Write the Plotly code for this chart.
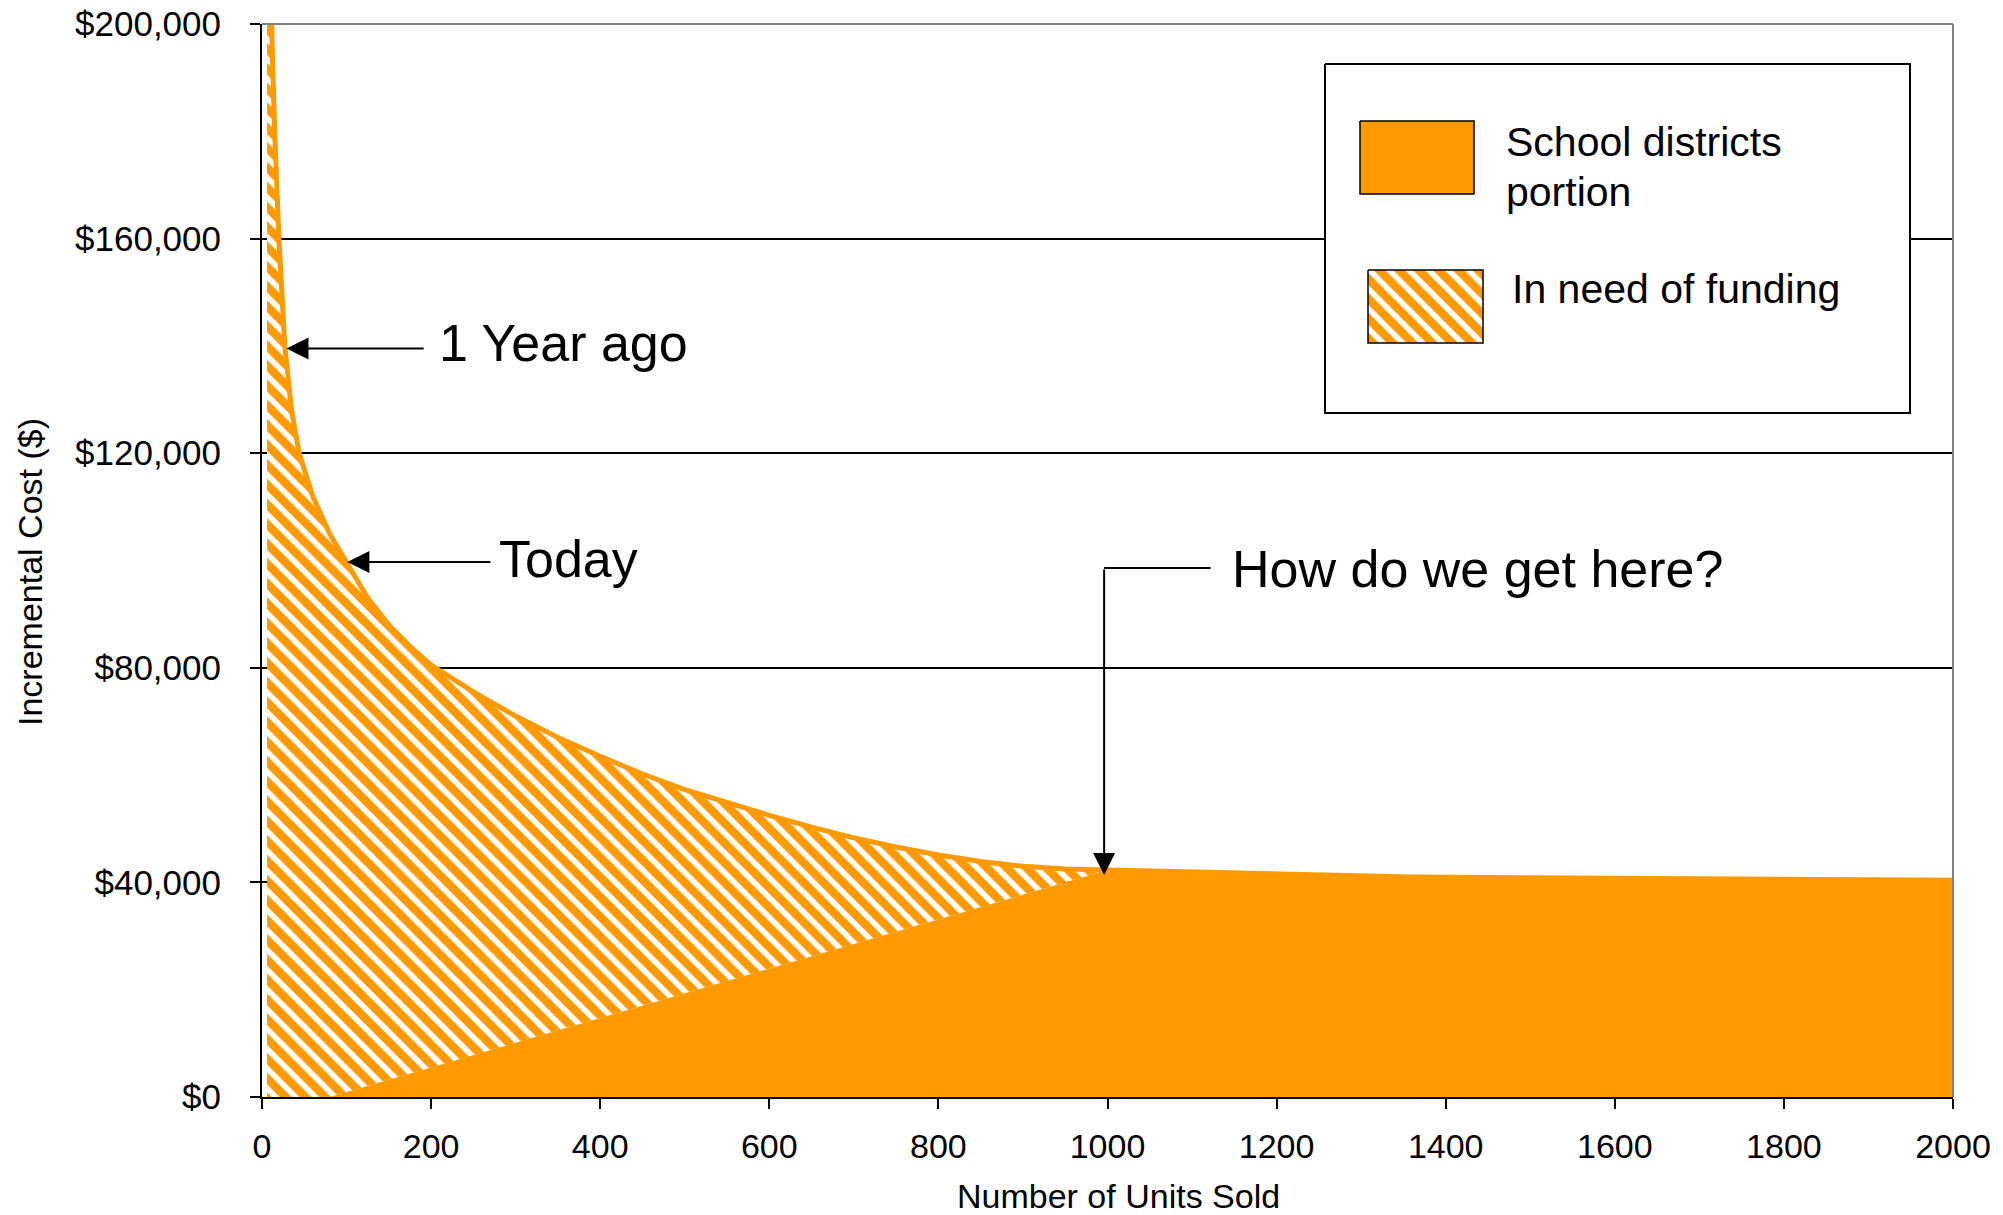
import plotly.graph_objects as go

# ---------------- data ----------------
# total incremental cost curve (units sold -> $)
units = [6, 9, 12, 15, 20, 27, 35, 44, 60, 80, 100, 125, 150, 175, 200, 250, 300, 350,
         400, 450, 500, 550, 600, 650, 700, 750, 800, 850, 900, 950, 1000, 1360, 2000]
cost = [245000, 215000, 196000, 180000, 160000, 140000, 128000, 120000, 112000, 105000,
        99500, 93000, 88000, 84000, 80500, 75500, 71000, 67000, 63500, 60200, 57300,
        54800, 52500, 50300, 48300, 46600, 45100, 43900, 43000, 42500, 42300, 41000, 40400]
# school districts portion boundary (straight ramp up to the meeting point)
district_units = [80, 1000]
district_cost = [0, 42300]

x_ticks = [0, 200, 400, 600, 800, 1000, 1200, 1400, 1600, 1800, 2000]
y_ticks = [0, 40000, 80000, 120000, 160000, 200000]
y_tick_text = ["$0", "$40,000", "$80,000", "$120,000", "$160,000", "$200,000"]

ORANGE = "#FF9900"
FONT = "Liberation Sans, Arial, sans-serif"
HATCH = dict(shape="\\", fgcolor=ORANGE, bgcolor="white", size=14, solidity=0.6, fgopacity=1)

# ---------------- regions ----------------
meet = district_units[-1]
cx = [u for u in units if u <= meet]
cy = [c for u, c in zip(units, cost) if u <= meet]
hatch_x = cx + district_units[::-1] + [units[0]]
hatch_y = cy + district_cost[::-1] + [0]
tx = [u for u in units if u > meet]
ty = [c for u, c in zip(units, cost) if u > meet]
solid_x = district_units + tx + [tx[-1], district_units[0]]
solid_y = district_cost + ty + [0, 0]

fig = go.Figure()
fig.add_trace(go.Scatter(
    x=hatch_x, y=hatch_y, mode="lines", fill="toself", line=dict(width=0, color=ORANGE),
    fillcolor="white", fillpattern=HATCH, hoverinfo="skip", showlegend=False))
fig.add_trace(go.Scatter(
    x=solid_x, y=solid_y, mode="lines", fill="toself", line=dict(width=0, color=ORANGE),
    fillcolor=ORANGE, hoverinfo="skip", showlegend=False))
fig.add_trace(go.Scatter(
    x=units, y=cost, mode="lines", line=dict(width=5, color=ORANGE),
    hoverinfo="skip", showlegend=False))

# ---------------- page geometry (page body has an 8px offset) ----------------
OFF = 8
W, H = 2003 - OFF, 1215 - OFF
L, R, T, B = 262, 1953, 24, 1097          # plot area in screen pixels

legend_box = dict(x=[1325, 1910, 1910, 1325, 1325], y=[64, 64, 413, 413, 64])
sw1 = dict(x=[1360, 1474, 1474, 1360, 1360], y=[121, 121, 194, 194, 121])
sw2 = dict(x=[1368, 1483, 1483, 1368, 1368], y=[270, 270, 343, 343, 270])
fig.add_trace(go.Scatter(**legend_box, xaxis="x2", yaxis="y2", mode="lines", fill="toself",
                         fillcolor="white", line=dict(color="black", width=2),
                         hoverinfo="skip", showlegend=False))
fig.add_trace(go.Scatter(**sw1, xaxis="x2", yaxis="y2", mode="lines", fill="toself",
                         fillcolor=ORANGE, line=dict(color="black", width=1.5),
                         hoverinfo="skip", showlegend=False))
fig.add_trace(go.Scatter(**sw2, xaxis="x2", yaxis="y2", mode="lines", fill="toself",
                         fillcolor="white", fillpattern=HATCH,
                         line=dict(color="black", width=1.5),
                         hoverinfo="skip", showlegend=False))

annotations = [
    dict(xref="x2", yref="y2", x=1504, y=142, text="School districts", xanchor="left",
         yanchor="middle", showarrow=False, font=dict(size=41, family=FONT, color="black")),
    dict(xref="x2", yref="y2", x=1504, y=192, text="portion", xanchor="left",
         yanchor="middle", showarrow=False, font=dict(size=41, family=FONT, color="black")),
    dict(xref="x2", yref="y2", x=1510, y=289, text="In need of funding", xanchor="left",
         yanchor="middle", showarrow=False, font=dict(size=41, family=FONT, color="black")),
    # callout texts
    dict(x=207, y=140500, text="1 Year ago", xanchor="left", yanchor="middle", showarrow=False,
         font=dict(size=52, family=FONT, color="black")),
    dict(x=278, y=100300, text="Today", xanchor="left", yanchor="middle", showarrow=False,
         font=dict(size=52, family=FONT, color="black")),
    dict(x=1145, y=98400, text="How do we get here?", xanchor="left", yanchor="middle",
         showarrow=False, font=dict(size=52, family=FONT, color="black")),
    # arrows
    dict(x=29, y=139500, ax=193, ay=139500, axref="x", ayref="y", text="", showarrow=True,
         arrowhead=2, arrowsize=2.2, arrowwidth=2, arrowcolor="black", standoff=0),
    dict(x=101, y=99700, ax=272, ay=99700, axref="x", ayref="y", text="", showarrow=True,
         arrowhead=2, arrowsize=2.2, arrowwidth=2, arrowcolor="black", standoff=0),
    dict(x=996, y=41400, ax=996, ay=98600, axref="x", ayref="y", text="", showarrow=True,
         arrowhead=2, arrowsize=2.2, arrowwidth=2, arrowcolor="black", standoff=0),
    # axis titles
    dict(xref="paper", yref="paper", x=(1118 - L) / (R - L), y=(B - 1196) / (B - T),
         text="Number of Units Sold", showarrow=False, xanchor="center", yanchor="middle",
         font=dict(size=34, family=FONT, color="black")),
    dict(xref="paper", yref="paper", x=(30 - L) / (R - L), y=(B - 572) / (B - T),
         text="Incremental Cost ($)", textangle=-90, showarrow=False, xanchor="center",
         yanchor="middle", font=dict(size=34, family=FONT, color="black")),
]

shapes = [
    dict(type="line", x0=996, x1=1122, y0=98600, y1=98600, xref="x", yref="y",
         line=dict(color="black", width=2), layer="above"),
    dict(type="line", xref="paper", yref="paper", x0=0, x1=1, y0=1, y1=1,
         line=dict(color="#808080", width=2), layer="above"),
    dict(type="line", xref="paper", yref="paper", x0=1, x1=1, y0=0, y1=1,
         line=dict(color="#808080", width=2), layer="above"),
]

fig.update_layout(
    width=W, height=H,
    margin=dict(l=L - OFF, r=2003 - R, t=T - OFF, b=1215 - B, autoexpand=False),
    paper_bgcolor="white", plot_bgcolor="white",
    font=dict(family=FONT, color="black"),
    showlegend=False,
    annotations=annotations, shapes=shapes,
    xaxis=dict(range=[0, 2000], tickvals=x_ticks, ticks="outside", ticklen=10, tickwidth=2,
               tickcolor="black", showline=True, linecolor="black", linewidth=2,
               showgrid=False, zeroline=False, tickfont=dict(size=34, family=FONT),
               ticklabelstandoff=8, automargin=False, ticklabeloverflow="allow"),
    yaxis=dict(range=[0, 200000], tickvals=y_ticks, ticktext=y_tick_text,
               ticks="outside", ticklen=10, tickwidth=2, tickcolor="black",
               showline=True, linecolor="black", linewidth=2,
               showgrid=True, gridcolor="black", gridwidth=1.5, zeroline=False,
               tickfont=dict(size=35, family=FONT), ticklabelstandoff=22, automargin=False,
               ticklabeloverflow="allow"),
    xaxis2=dict(range=[L, R], overlaying="x", visible=False, domain=[0, 1], anchor="y2"),
    yaxis2=dict(range=[B, T], overlaying="y", visible=False, domain=[0, 1], anchor="x2"),
)

fig.write_html("out.html")
